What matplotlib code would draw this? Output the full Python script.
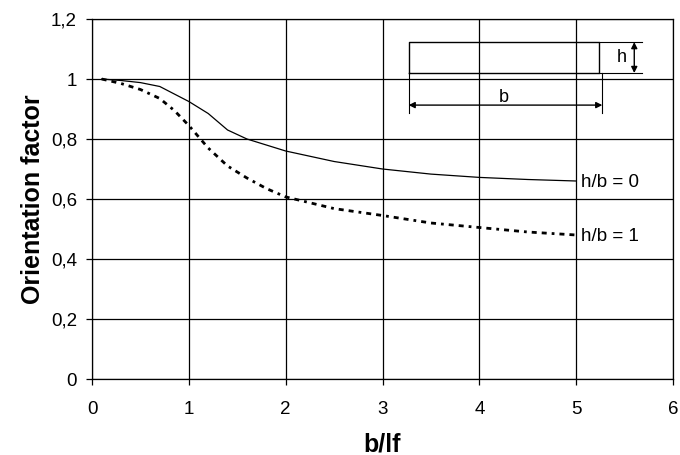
import matplotlib.pyplot as plt
from matplotlib.ticker import FuncFormatter

plt.rcParams['font.family'] = ['Liberation Sans', 'DejaVu Sans']

# orientation factor vs b/lf for two cross-section ratios
bl = [0.1, 0.3, 0.5, 0.7, 0.85, 1.0, 1.2, 1.4, 1.6, 1.8, 2.0, 2.5, 3.0, 3.5, 4.0, 4.5, 5.0]
of_h0 = [1.0, 0.995, 0.988, 0.975, 0.95, 0.925, 0.885, 0.83, 0.80, 0.78, 0.76, 0.725, 0.70, 0.683, 0.672, 0.665, 0.66]
of_h1 = [1.0, 0.985, 0.965, 0.935, 0.895, 0.845, 0.77, 0.71, 0.67, 0.635, 0.607, 0.568, 0.545, 0.52, 0.505, 0.49, 0.48]

xticks = [0, 1, 2, 3, 4, 5, 6]
yticks = [0, 0.2, 0.4, 0.6, 0.8, 1.0, 1.2]

fig = plt.figure(figsize=(6.8, 4.55), dpi=100)
ax = fig.add_axes([92 / 680, 1 - 379 / 455, 581 / 680, 360 / 455])

ax.plot(bl, of_h0, color='black', lw=0.9)
ax.plot(bl, of_h1, color='black', lw=2,
        linestyle=(0, (1.8, 1.8, 1.8, 1.8, 1.0, 1.8)))

ax.text(5.05, of_h0[-1] - 0.004, 'h/b = 0', fontsize=13.5, va='center', ha='left')
ax.text(5.05, of_h1[-1] - 0.004, 'h/b = 1', fontsize=13.5, va='center', ha='left')

# little sketch of the cross-section with dimension arrows
x0, x1 = 3.27, 5.24
y0, y1 = 1.02, 1.123
ax.plot([x0, x1, x1, x0, x0], [y0, y0, y1, y1, y0], color='black', lw=1)
ax.plot([x1, 5.68], [y1, y1], color='black', lw=0.8)
ax.plot([x1, 5.68], [y0, y0], color='black', lw=0.8)
ax.annotate('', xy=(5.6, y1), xytext=(5.6, y0),
            arrowprops=dict(arrowstyle='<|-|>', color='black', lw=1, mutation_scale=9, shrinkA=0, shrinkB=0))
ax.text(5.52, (y0 + y1) / 2, 'h', fontsize=13, ha='right', va='center')
ax.plot([x0, x0], [y0, 0.887], color='black', lw=0.8)
ax.plot([5.27, 5.27], [y0, 0.887], color='black', lw=0.8)
ax.annotate('', xy=(x0, 0.913), xytext=(5.27, 0.913),
            arrowprops=dict(arrowstyle='<|-|>', color='black', lw=1, mutation_scale=9, shrinkA=0, shrinkB=0))
ax.text(4.25, 0.94, 'b', fontsize=13, ha='center', va='center')

ax.set_xlim(0, 6)
ax.set_ylim(0, 1.2)
ax.set_xticks(xticks)
ax.set_yticks(yticks)
ax.yaxis.set_major_formatter(FuncFormatter(lambda v, p: ('%g' % round(v, 1)).replace('.', ',')))
ax.grid(True, color='black', lw=0.9)
ax.tick_params(direction='out', length=4.3, width=0.9, labelsize=13.5)
ax.tick_params(axis='x', pad=11.5)
ax.tick_params(axis='y', pad=6.5)
for s in ax.spines.values():
    s.set_linewidth(0.9)

ax.set_xlabel('b/lf', fontsize=18, fontweight='bold')
ax.set_ylabel('Orientation factor', fontsize=18, fontweight='bold')
ax.xaxis.set_label_coords(0.5, -(433 - 379) / 360, transform=ax.transAxes)
ax.yaxis.set_label_coords(-(92 - 45) / 581, 0.5, transform=ax.transAxes)

plt.savefig('out.png', dpi=100)
